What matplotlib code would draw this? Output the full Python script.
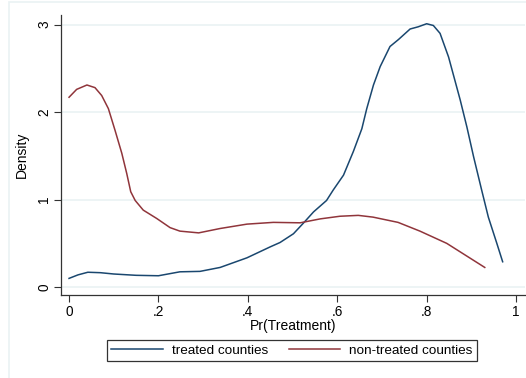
import matplotlib
matplotlib.use("Agg")
import matplotlib.pyplot as plt
from matplotlib.patches import Rectangle

treated_x = [0.0, 0.02, 0.042, 0.07, 0.1, 0.15, 0.2, 0.248, 0.293, 0.338, 0.398, 0.45, 0.472,
             0.502, 0.524, 0.547, 0.576, 0.591, 0.614, 0.636, 0.655, 0.666, 0.681, 0.696,
             0.718, 0.737, 0.763, 0.781, 0.80, 0.815, 0.83, 0.849, 0.875, 0.89, 0.905,
             0.923, 0.938, 0.957, 0.97]
treated_y = [0.10, 0.14, 0.17, 0.165, 0.15, 0.135, 0.13, 0.175, 0.18, 0.225, 0.335, 0.46, 0.51,
             0.61, 0.73, 0.86, 0.99, 1.11, 1.28, 1.55, 1.81, 2.04, 2.31, 2.52,
             2.75, 2.83, 2.95, 2.975, 3.01, 2.99, 2.90, 2.63, 2.14, 1.83, 1.49,
             1.11, 0.80, 0.50, 0.29]

nontreated_x = [0.0, 0.017, 0.040, 0.058, 0.073, 0.088, 0.103, 0.118, 0.129, 0.138, 0.148,
                0.166, 0.196, 0.226, 0.248, 0.29, 0.338, 0.398, 0.457, 0.517, 0.562, 0.606,
                0.647, 0.68, 0.736, 0.785, 0.845, 0.93]
nontreated_y = [2.17, 2.26, 2.31, 2.28, 2.19, 2.04, 1.79, 1.53, 1.30, 1.09, 0.99,
                0.88, 0.785, 0.68, 0.64, 0.62, 0.67, 0.72, 0.74, 0.735, 0.78, 0.81,
                0.82, 0.80, 0.74, 0.64, 0.50, 0.225]

xticks = [0, 0.2, 0.4, 0.6, 0.8, 1.0]
xticklabels = ["0", ".2", ".4", ".6", ".8", "1"]
yticks = [0, 1, 2, 3]
yticklabels = ["0", "1", "2", "3"]

plt.rcParams['font.family'] = ['Liberation Sans', 'DejaVu Sans']

fig = plt.figure(figsize=(5.26, 3.78), dpi=100)
fig.patches.append(Rectangle((9/526, -0.05), 1.2, 1 - 2/378 + 0.05, transform=fig.transFigure,
                             facecolor='none', edgecolor='#eaf2f3', lw=1.2, zorder=-5))
ax = fig.add_axes([61/526, 83/378, (525-61)/526, (295-15)/378])
ax.set_facecolor('white')

c_blue = '#1a476f'
c_red = '#90353b'
l1, = ax.plot(treated_x, treated_y, color=c_blue, lw=1.1, label='treated counties',
              solid_joinstyle='round')
l2, = ax.plot(nontreated_x, nontreated_y, color=c_red, lw=1.1, label='non-treated counties',
              solid_joinstyle='round')

ax.set_xlim(-0.018, 1.02)
ax.set_ylim(-0.09, 3.11)
ax.set_xticks(xticks)
ax.set_xticklabels(xticklabels, fontsize=9.8)
ax.set_yticks(yticks)
ax.set_yticklabels(yticklabels, fontsize=9.8, rotation=90, va='center')
ax.grid(axis='y', color='#eaf2f3', lw=1.2)
ax.set_axisbelow(True)
for s in ['top', 'right']:
    ax.spines[s].set_visible(False)
for s in ['left', 'bottom']:
    ax.spines[s].set_color('#333333')
    ax.spines[s].set_linewidth(0.9)
ax.tick_params(axis='both', length=5, width=0.8, color='#333333', pad=2)
ax.set_xlabel('Pr(Treatment)', fontsize=10, labelpad=0.5)
ax.set_ylabel('Density', fontsize=10, labelpad=6)

leg = fig.legend(handles=[l1, l2], loc='center', bbox_to_anchor=(292/526, 1 - 350.5/378),
                 ncol=2, fontsize=9.7, frameon=True, fancybox=False, edgecolor='black',
                 handlelength=3.8, columnspacing=1.5, borderpad=0.35, handletextpad=0.7)
leg.get_frame().set_linewidth(0.9)

fig.savefig('out.png', dpi=100)
